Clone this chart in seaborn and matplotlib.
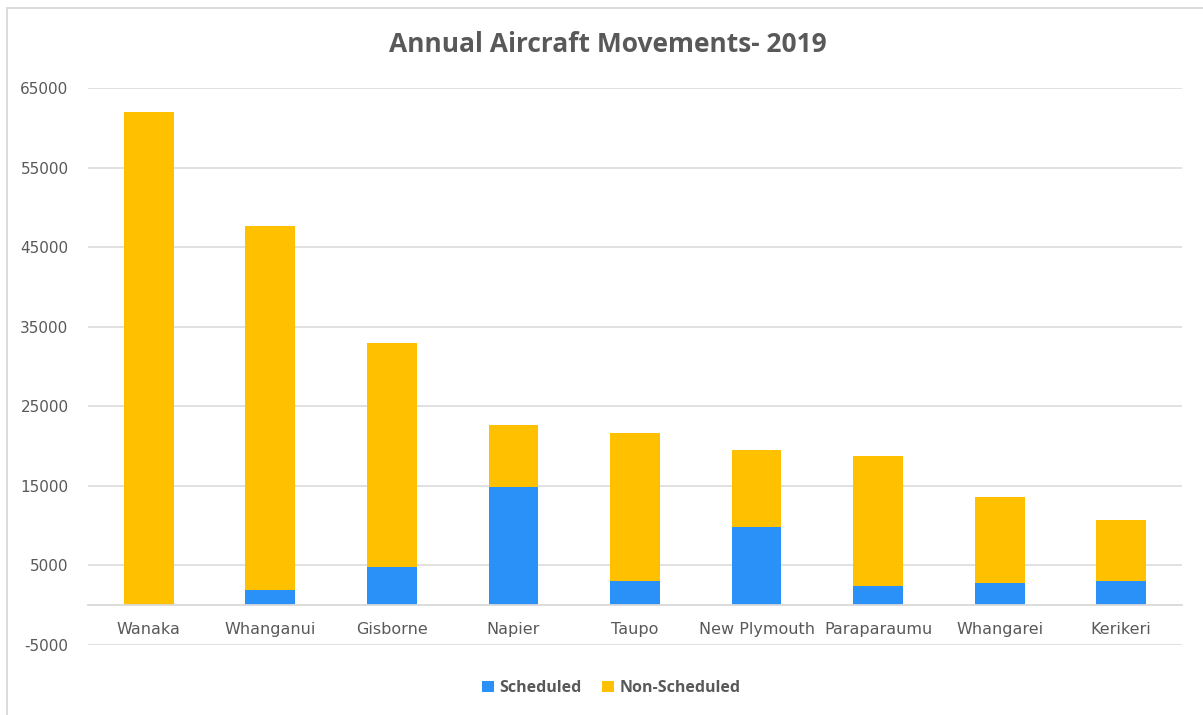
import matplotlib
matplotlib.use("Agg")
import matplotlib.pyplot as plt
import seaborn as sns
import pandas as pd
from matplotlib.patches import Rectangle, Patch

airports = ["Wanaka", "Whanganui", "Gisborne", "Napier", "Taupo",
            "New Plymouth", "Paraparaumu", "Whangarei", "Kerikeri"]
scheduled = [0, 1900, 4800, 14900, 3000, 9800, 2400, 2800, 3000]
non_scheduled = [62000, 45750, 28200, 7750, 18650, 9700, 16350, 10800, 7700]
y_ticks = [-5000, 5000, 15000, 25000, 35000, 45000, 55000, 65000]

BLUE = "#2A91F9"
YELLOW = "#FFC000"
GREY_TXT = "#595959"
GRID = "#D9D9D9"

sns.set_theme(style="white")
plt.rcParams["font.family"] = ["DejaVu Sans"]

df = pd.DataFrame({"Airport": airports, "Scheduled": scheduled,
                   "NonScheduled": non_scheduled})
df["Total"] = df["Scheduled"] + df["NonScheduled"]

W, H = 1203, 715
fig = plt.figure(figsize=(W / 100, H / 100), dpi=100)
ax = fig.add_axes([88 / W, 1 - 645 / H, (1182 - 88) / W, (645 - 88) / H])

sns.barplot(data=df, x="Airport", y="Total", color=YELLOW, width=0.41,
            linewidth=0, saturation=1, ax=ax, zorder=3)
sns.barplot(data=df, x="Airport", y="Scheduled", color=BLUE, width=0.41,
            linewidth=0, saturation=1, ax=ax, zorder=3)

ax.set_ylim(-5000, 65000)
ax.set_xlim(-0.5, len(airports) - 0.5)
ax.set_yticks(y_ticks)
ax.set_yticklabels([str(v) for v in y_ticks])
ax.yaxis.grid(True, color=GRID, linewidth=1.1, zorder=0)
ax.set_axisbelow(True)
for s in ["left", "right", "top"]:
    ax.spines[s].set_visible(False)
ax.spines["bottom"].set_position(("data", 0))
ax.spines["bottom"].set_color(GRID)
ax.spines["bottom"].set_linewidth(1.3)
ax.spines["bottom"].set_zorder(4)
ax.tick_params(axis="y", length=0, pad=14, labelsize=11, labelcolor=GREY_TXT)
ax.tick_params(axis="x", length=0, pad=12, labelsize=11.5, labelcolor=GREY_TXT)
ax.set_xlabel("")
ax.set_ylabel("")

fig.text(0.505, 1 - 44 / H, "Annual Aircraft Movements- 2019", ha="center",
         va="center", fontsize=19, fontweight="bold", color=GREY_TXT,
         family=["Open Sans", "DejaVu Sans"])

handles = [Patch(facecolor=BLUE, edgecolor="none"),
           Patch(facecolor=YELLOW, edgecolor="none")]
leg = fig.legend(handles, ["Scheduled", "Non-Scheduled"], loc="center",
                 bbox_to_anchor=(0.508, 1 - 688 / H), ncol=2, frameon=False,
                 handlelength=0.75, handleheight=0.75, handletextpad=0.35,
                 columnspacing=1.3,
                 prop={"family": ["Open Sans", "DejaVu Sans"], "weight": "bold", "size": 11.5})
for t in leg.get_texts():
    t.set_color(GREY_TXT)

fig.patches.append(Rectangle((7 / W, -0.05), 1.1, 1.05 - 8 / H,
                             transform=fig.transFigure, fill=False,
                             edgecolor=GRID, linewidth=1.3))

fig.savefig("out.png", dpi=100)
